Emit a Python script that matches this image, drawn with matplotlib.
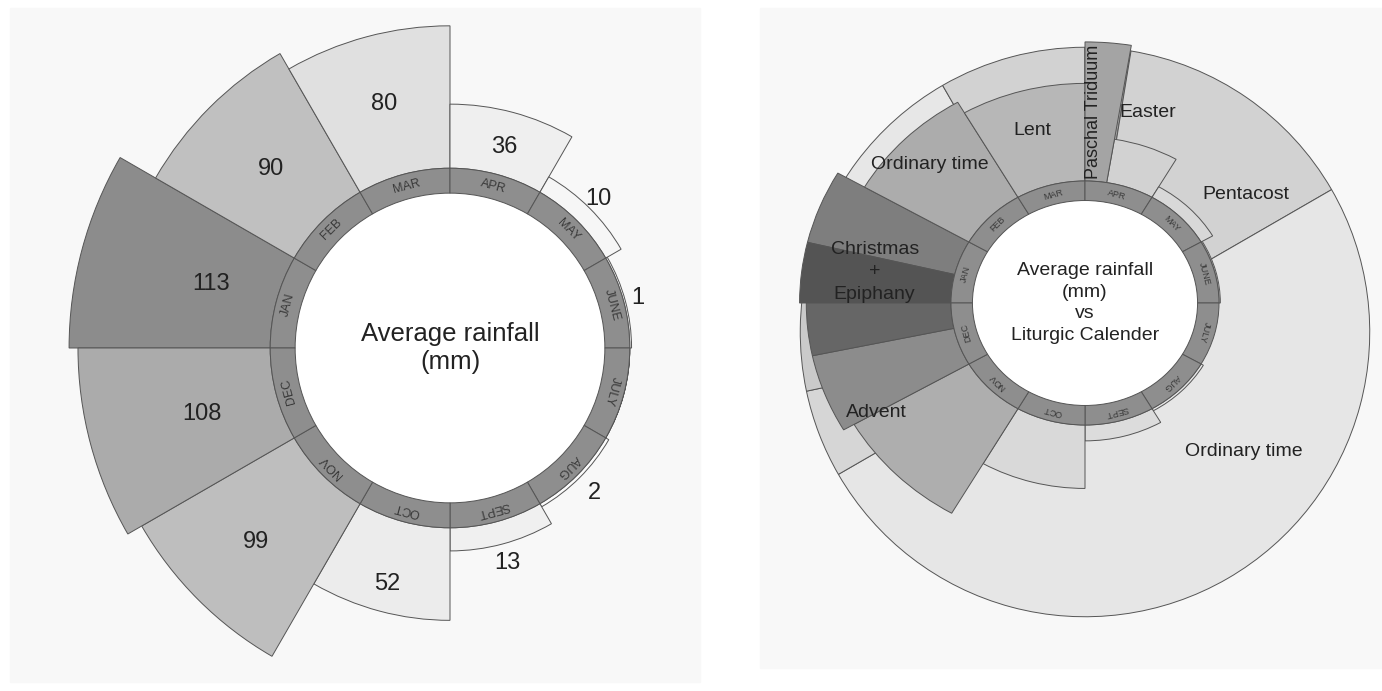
import numpy as np
import matplotlib.pyplot as plt
from matplotlib.patches import Rectangle

plt.rcParams['font.family'] = ['Liberation Sans', 'DejaVu Sans']

months = ['JAN', 'FEB', 'MAR', 'APR', 'MAY', 'JUNE', 'JULY', 'AUG', 'SEPT', 'OCT', 'NOV', 'DEC']
rainfall = [113, 90, 80, 36, 10, 1, 0, 2, 13, 52, 99, 108]

# liturgical seasons, start / end counted in months from 1 January
season_start = [0.45, 2.0, 3.0, 3.31, 5.0, 11.0, 11.6]
season_end = [2.0, 3.0, 3.31, 5.0, 11.0, 11.6, 12.45]

# season labels of the right chart
season_labels = ['Ordinary time', 'Lent', 'Paschal Triduum', 'Easter', 'Pentacost',
                 'Ordinary time', 'Advent', 'Christmas\n+\nEpiphany']

# ---- style / layout ----
W, H = 1382, 691
bar_colors = ['#8c8c8c', '#c0c0c0', '#e0e0e0', '#efefef', '#f6f6f6', '#f2f2f2',
              '#f8f8f8', '#fbfbfb', '#f0f0f0', '#ececec', '#bebebe', '#ababab']
season_fill = ['#e7e7e7', '#d2d2d2', '#a4a4a4', '#d2d2d2', '#e6e6e6', '#d6d6d6', '#cacaca']
season_shade = [0.9, 0.82, 0.68, 0.88, 0.92, 0.82, 0.6]
ring_color = '#8e8e8e'
edge = '#555555'
# radius (mm units) of the value labels on the left chart
value_r = [139, 142, 142, 117, 118, 109, 0, 115, 125, 137, 154, 144]
# season label placement (theta in degrees clockwise from 9 o'clock, radius in mm units)
label_theta = [44.4, 74.4, 92.2, 106.7, 143.5, 225.8, 330, 9.2]
label_r = [162, 147, 157, 163, 149, 170, 180, 159]
label_rot = [0, 0, 90, 0, 0, 0, 0, 0]
label_size = [14, 14, 13, 14, 14, 14, 14, 14]

fig = plt.figure(figsize=(W / 100, H / 100), dpi=100)
fig.patches.append(Rectangle((10 / W, 1 - 682 / H), 690 / W, 674 / H,
                             transform=fig.transFigure, color='#f8f8f8', zorder=-5))
fig.patches.append(Rectangle((760 / W, 1 - 668 / H), 622 / W, 660 / H,
                             transform=fig.transFigure, color='#f8f8f8', zorder=-5))


def polar_axes(cx, cy, sx, sy, rmax):
    # sx / sy: pixels per mm horizontally / vertically
    rx, ry = rmax * sx, rmax * sy
    ax = fig.add_axes([(cx - rx) / W, (H - cy - ry) / H, 2 * rx / W, 2 * ry / H],
                      projection='polar')
    ax.set_aspect('auto')
    ax.set_theta_zero_location('W')
    ax.set_theta_direction(-1)
    ax.set_ylim(0, rmax)
    ax.axis('off')
    return ax


def month_ring(ax, r_in, r_out, fs):
    step = 2 * np.pi / 12
    theta = (np.arange(12) + 0.5) * step
    ax.bar(0, r_in, width=2 * np.pi, bottom=0, color='white', linewidth=0, zorder=3)
    ax.bar(theta, r_out - r_in, width=step, bottom=r_in, color=ring_color,
           edgecolor=edge, linewidth=0.7, zorder=4)
    for t, m in zip(theta, months):
        ax.text(t, (r_in + r_out) / 2, m, rotation=90 - np.degrees(t), rotation_mode='anchor',
                ha='center', va='center', fontsize=fs, color='#3a3a3a', zorder=5)


# ---------------- left: average rainfall ----------------
ax1 = polar_axes(450, 348, 1.78, 1.78, 225)
r_in, r_out = 87, 101
step = 2 * np.pi / 12
theta = (np.arange(12) + 0.5) * step
ax1.bar(theta, rainfall, width=step, bottom=r_out, color=bar_colors,
        edgecolor=edge, linewidth=0.7, zorder=2)
month_ring(ax1, r_in, r_out, 9)
for t, v, r in zip(theta, rainfall, value_r):
    if v == 0:
        continue
    ax1.text(t, r, str(v), ha='center', va='center', fontsize=17, color='#222222', zorder=5)
ax1.text(0, 0, 'Average rainfall\n(mm)', ha='center', va='center', fontsize=18.5,
         linespacing=1.25, color='#222222', zorder=5)

# ---------------- right: rainfall vs liturgic calendar ----------------
to_rad = 2 * np.pi / 12

# season sectors (outer circle)
ax_s = polar_axes(1085, 332, 1.34, 1.34, 225)
r_season = 212.5
for s, e, c in zip(season_start, season_end, season_fill):
    ax_s.bar((s + e) / 2 * to_rad, r_season, width=(e - s) * to_rad, bottom=0,
             color=c, edgecolor=edge, linewidth=0.7, zorder=1)

# rainfall bars + month ring
ax2 = polar_axes(1085, 303, 1.34, 1.22, 225)
r_in, r_out = 84, 100
for m, v in enumerate(rainfall):
    if v == 0:
        continue
    base = int(bar_colors[m][1:3], 16)
    # each month is cut into the seasons it crosses
    for s, e, k in zip(season_start, season_end, season_shade):
        for shift in (-12, 0, 12):
            a, b = max(m, s + shift), min(m + 1, e + shift)
            if b - a > 1e-6:
                g = int(base * k) / 255
                ax2.bar((a + b) / 2 * to_rad, v, width=(b - a) * to_rad, bottom=r_out,
                        color=(g, g, g), edgecolor=edge, linewidth=0.7, zorder=2)

# the triduum sits on top of the April bar
s, e = season_start[2], season_end[2]
ax2.bar((s + e) / 2 * to_rad, 214 - r_out, width=(e - s) * to_rad, bottom=r_out,
        color=season_fill[2], edgecolor=edge, linewidth=0.7, zorder=2.5)

month_ring(ax2, r_in, r_out, 6.5)
for txt, t, r, rot, fs in zip(season_labels, label_theta, label_r, label_rot, label_size):
    ax2.text(np.radians(t), r, txt, rotation=rot, ha='center', va='center', fontsize=fs,
             linespacing=1.4, color='#222222', zorder=6)
ax2.text(0, 0, 'Average rainfall\n(mm)\nvs\nLiturgic Calender', ha='center', va='center',
         fontsize=14, linespacing=1.35, color='#222222', zorder=6)

fig.savefig('out.png', dpi=100)
